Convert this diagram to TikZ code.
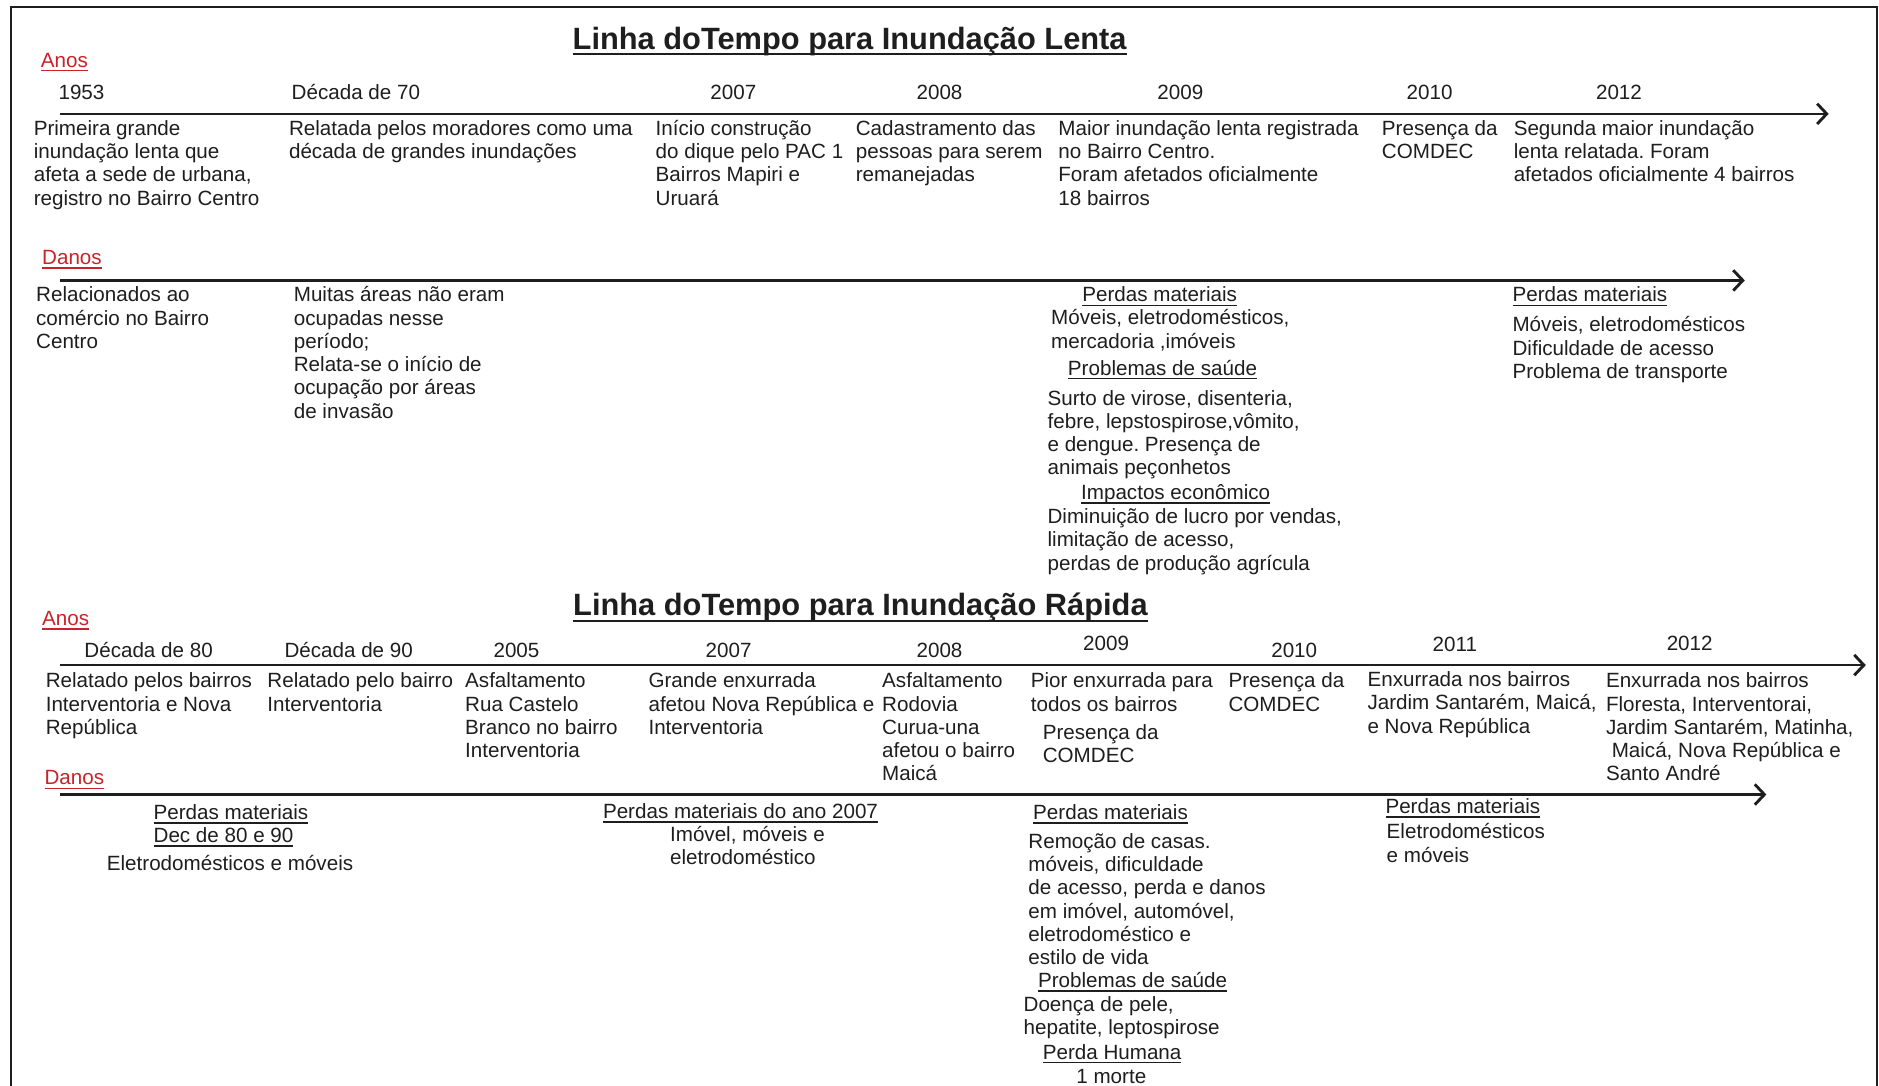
\documentclass[tikz,border=0pt]{standalone}
\usepackage{fontspec}
\setmainfont{Liberation Sans}
\usetikzlibrary{arrows.meta}
\frenchspacing
\definecolor{redlbl}{RGB}{200,35,40}
\definecolor{ink}{RGB}{30,30,30}
\newcommand\bodyfont{\fontsize{17.2}{19.4}\selectfont\frenchspacing}
\newcommand\ttlfont{\fontsize{25.7}{29}\selectfont\bfseries}
\newcommand\ulb[1]{\setbox0\hbox{#1}\rlap{\vrule width\wd0 height -2.2pt depth 3.4pt}\box0}
\newcommand\ult[1]{\setbox0\hbox{#1}\rlap{\vrule width\wd0 height -3pt depth 5pt}\box0}
\newcommand\blk[1]{\begin{tabular}[t]{@{}l@{}}#1\end{tabular}}
\tikzset{
  txt/.style={anchor=base west, inner sep=0pt, font=\bodyfont, text=ink},
  yr/.style={anchor=base, inner sep=0pt, font=\bodyfont, text=ink},
  lbl/.style={anchor=base west, inner sep=0pt, font=\bodyfont, text=redlbl},
  ttl/.style={anchor=base, inner sep=0pt, font=\ttlfont, text=ink},
  axis/.style={line width=2.2pt, draw=ink, -{Straight Barb[length=8pt,width=17pt,line width=2.4pt]}},
  frame/.style={line width=1.8pt, draw=ink}
}
\begin{document}
\begin{tikzpicture}[x=1pt,y=-1pt]
\useasboundingbox (0,0) rectangle (1568,906);
% frame
\coordinate (fbl) at (9,910);
\coordinate (ftl) at (9,6);
\coordinate (ftr) at (1566,6);
\coordinate (fbr) at (1566,910);
\draw[frame] (fbl) -- (ftl) -- (ftr) -- (fbr);

% ===================== Inundação Lenta =====================
\node[ttl] (t1) at (709,41) {\ult{Linha doTempo para Inundação Lenta}};
\node[lbl] (anos1) at (34,56) {\ulb{Anos}};
\node[yr] (y1a) at (68,83) {1953};
\node[yr] (y1b) at (297,83) {Década de 70};
\node[yr] (y1c) at (612,83) {2007};
\node[yr] (y1d) at (784,83) {2008};
\node[yr] (y1e) at (985,83) {2009};
\node[yr] (y1f) at (1193,83) {2010};
\node[yr] (y1g) at (1351,83) {2012};
\coordinate (a1s) at (50,95);
\coordinate (a1e) at (1526,95);
\draw[axis] (a1s) -- (a1e);

\node[txt] (e1a) at (28,113) {\blk{Primeira grande\\inundação lenta que\\afeta a sede de urbana,\\registro no Bairro Centro}};
\node[txt] (e1b) at (241,113) {\blk{Relatada pelos moradores como uma\\década de grandes inundações}};
\node[txt] (e1c) at (547,113) {\blk{Início construção\\do dique pelo PAC 1\\Bairros Mapiri e\\Uruará}};
\node[txt] (e1d) at (714,113) {\blk{Cadastramento das\\pessoas para serem\\remanejadas}};
\node[txt] (e1e) at (883,113) {\blk{Maior inundação lenta registrada\\no Bairro Centro.\\Foram afetados oficialmente\\18 bairros}};
\node[txt] (e1f) at (1153,113) {\blk{Presença da\\COMDEC}};
\node[txt] (e1g) at (1263,113) {\blk{Segunda maior inundação\\lenta relatada. Foram\\afetados oficialmente 4 bairros}};

\node[lbl] (danos1) at (35,221) {\ulb{Danos}};
\coordinate (a2s) at (50,234);
\coordinate (a2e) at (1456,234);
\draw[axis] (a2s) -- (a2e);

\node[txt] (d1a) at (30,252) {\blk{Relacionados ao\\comércio no Bairro\\Centro}};
\node[txt] (d1b) at (245,252) {\blk{Muitas áreas não eram\\ocupadas nesse\\período;\\Relata-se o início de\\ocupação por áreas\\de invasão}};
\node[txt] (d1c1) at (903,252) {\ulb{Perdas materiais}};
\node[txt] (d1c2) at (877,271) {\blk{Móveis, eletrodomésticos,\\mercadoria ,imóveis}};
\node[txt] (d1c3) at (891,313) {\ulb{Problemas de saúde}};
\node[txt] (d1c4) at (874,338) {\blk{Surto de virose, disenteria,\\febre, lepstospirose,vômito,\\e dengue. Presença de\\animais peçonhetos}};
\node[txt] (d1c5) at (902,417) {\ulb{Impactos econômico}};
\node[txt] (d1c6) at (874,437) {\blk{Diminuição de lucro por vendas,\\limitação de acesso,\\perdas de produção agrícula}};
\node[txt] (d1d1) at (1262,252) {\ulb{Perdas materiais}};
\node[txt] (d1d2) at (1262,277) {\blk{Móveis, eletrodomésticos\\Dificuldade de acesso\\Problema de transporte}};

% ===================== Inundação Rápida =====================
\node[ttl] (t2) at (718,514) {\ult{Linha doTempo para Inundação Rápida}};
\node[lbl] (anos2) at (35,522) {\ulb{Anos}};
\node[yr] (y2a) at (124,549) {Década de 80};
\node[yr] (y2b) at (291,549) {Década de 90};
\node[yr] (y2c) at (431,549) {2005};
\node[yr] (y2d) at (608,549) {2007};
\node[yr] (y2e) at (784,549) {2008};
\node[yr] (y2f) at (923,543) {2009};
\node[yr] (y2g) at (1080,549) {2010};
\node[yr] (y2h) at (1214,544) {2011};
\node[yr] (y2i) at (1410,543) {2012};
\coordinate (a3s) at (50,555);
\coordinate (a3e) at (1557,555);
\draw[axis] (a3s) -- (a3e);

\node[txt] (e2a) at (38,574) {\blk{Relatado pelos bairros\\Interventoria e Nova\\República}};
\node[txt] (e2b) at (223,574) {\blk{Relatado pelo bairro\\Interventoria}};
\node[txt] (e2c) at (388,574) {\blk{Asfaltamento\\Rua Castelo\\Branco no bairro\\Interventoria}};
\node[txt] (e2d) at (541,574) {\blk{Grande enxurrada\\afetou Nova República e\\Interventoria}};
\node[txt] (e2e) at (736,574) {\blk{Asfaltamento\\Rodovia\\Curua-una\\afetou o bairro\\Maicá}};
\node[txt] (e2f1) at (860,574) {\blk{Pior enxurrada para\\todos os bairros}};
\node[txt] (e2f2) at (870,617) {\blk{Presença da\\COMDEC}};
\node[txt] (e2g) at (1025,574) {\blk{Presença da\\COMDEC}};
\node[txt] (e2h) at (1141,573) {\blk{Enxurrada nos bairros\\Jardim Santarém, Maicá,\\e Nova República}};
\node[txt] (e2i) at (1340,574) {\blk{Enxurrada nos bairros\\Floresta, Interventorai,\\Jardim Santarém, Matinha,\\\ Maicá, Nova República e\\Santo André}};

\node[lbl] (danos2) at (37,655) {\ulb{Danos}};
\coordinate (a4s) at (50,663);
\coordinate (a4e) at (1474,663);
\draw[axis] (a4s) -- (a4e);

\node[txt] (d2a1) at (128,684) {\ulb{Perdas materiais}};
\node[txt] (d2a2) at (128,703) {\ulb{Dec de 80 e 90}};
\node[txt] (d2a3) at (89,726) {Eletrodomésticos e móveis};
\node[txt] (d2b1) at (503,683) {\ulb{Perdas materiais do ano 2007}};
\node[txt] (d2b2) at (559,702) {\blk{Imóvel, móveis e\\eletrodoméstico}};
\node[txt] (d2c1) at (862,684) {\ulb{Perdas materiais}};
\node[txt] (d2c2) at (858,708) {\blk{Remoção de casas.\\móveis, dificuldade\\de acesso, perda e danos\\em imóvel, automóvel,\\eletrodoméstico e\\estilo de vida}};
\node[txt] (d2c3) at (866,824) {\ulb{Problemas de saúde}};
\node[txt] (d2c4) at (854,844) {\blk{Doença de pele,\\hepatite, leptospirose}};
\node[txt] (d2c5) at (870,884) {\ulb{Perda Humana}};
\node[txt] (d2c6) at (898,904) {1 morte};
\node[txt] (d2d1) at (1156,679) {\ulb{Perdas materiais}};
\node[txt] (d2d2) at (1157,700) {\blk{Eletrodomésticos\\e móveis}};
\end{tikzpicture}
\end{document}
